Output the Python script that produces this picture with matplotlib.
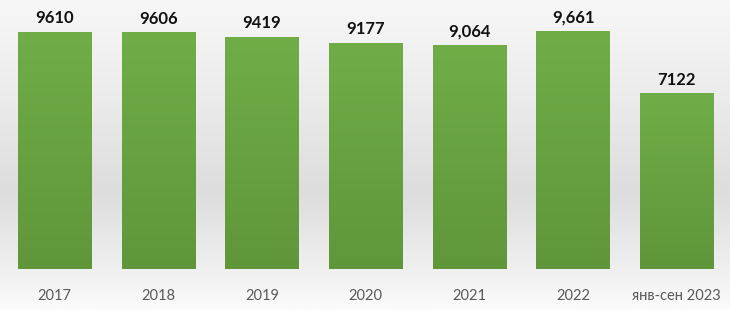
import numpy as np
import matplotlib.pyplot as plt
from matplotlib.colors import LinearSegmentedColormap

categories = ["2017", "2018", "2019", "2020", "2021", "2022", "янв-сен 2023"]
values = [9610, 9606, 9419, 9177, 9064, 9661, 7122]
value_labels = ["9610", "9606", "9419", "9177", "9,064", "9,661", "7122"]

fig = plt.figure(figsize=(7.3, 3.1), dpi=100)

# background gradient
bg = fig.add_axes([0, 0, 1, 1], zorder=0)
bg_cmap = LinearSegmentedColormap.from_list(
    "bg", [(0.0, "#f7f7f7"), (0.3, "#ececec"), (0.62, "#dddddd"), (0.85, "#eeeeee"), (1.0, "#fbfbfb")])
bg.imshow(np.linspace(0, 1, 256).reshape(-1, 1), aspect="auto", cmap=bg_cmap,
          extent=[0, 1, 0, 1], origin="upper")
bg.axis("off")

ax = fig.add_axes([0.004, 0.132, 0.994, 0.8355], zorder=1)
ax.patch.set_alpha(0)
x = np.arange(len(categories))
bars = ax.bar(x, values, width=0.71, color="#68a443", zorder=2)

green = LinearSegmentedColormap.from_list("g", ["#5f963a", "#70ad47"])
grad = np.linspace(0, 1, 256).reshape(-1, 1)
for b in bars:
    im = ax.imshow(grad, aspect="auto", cmap=green, origin="lower",
                   extent=[b.get_x(), b.get_x() + b.get_width(), 0, b.get_height()], zorder=3)
    im.set_clip_path(b)

for b, lab in zip(bars, value_labels):
    ax.annotate(lab, (b.get_x() + b.get_width() / 2, b.get_height()), xytext=(0, 4),
                textcoords="offset points", ha="center", va="bottom",
                fontsize=12, fontweight="bold", family="Lato", color="#111111")

ax.set_xlim(-0.5, len(categories) - 0.5)
ax.set_ylim(0, 10500)
ax.set_xticks(x)
ax.set_xticklabels(categories, fontsize=10.5, family="Lato", color="#595959")
ax.tick_params(axis="x", length=0, pad=14)
ax.set_yticks([])
for s in ax.spines.values():
    s.set_visible(False)

fig.savefig("out.png", dpi=100)
